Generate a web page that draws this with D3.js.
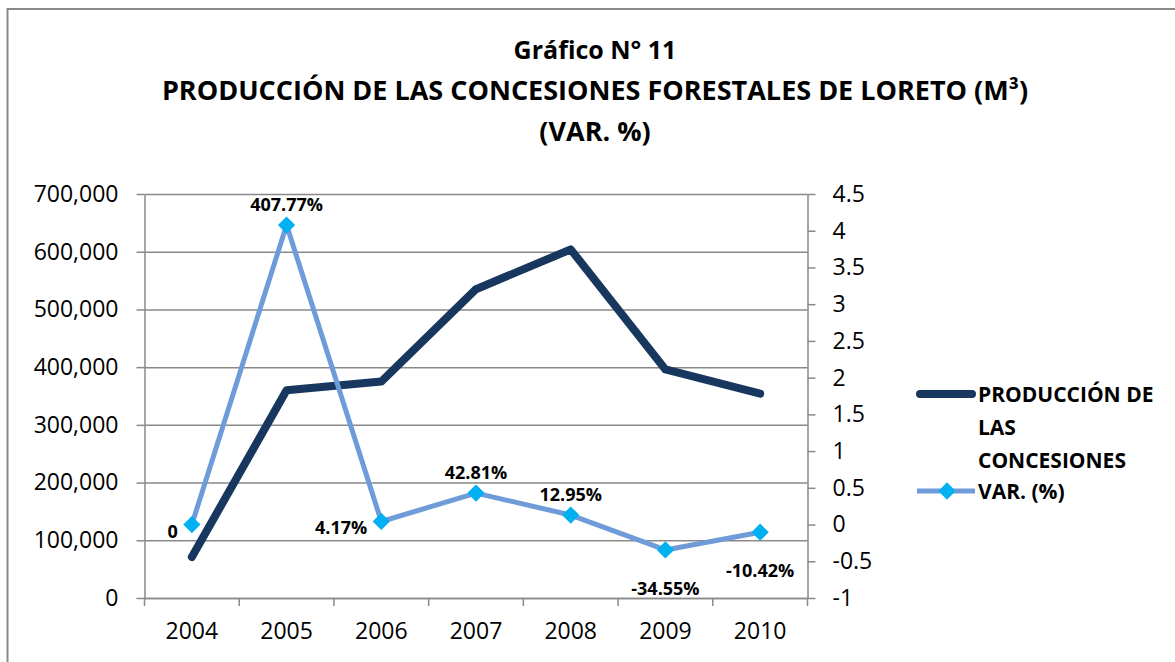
<!DOCTYPE html>
<html>
<head>
<meta charset="utf-8">
<script src="https://cdn.jsdelivr.net/npm/d3@7"></script>
<style>
  body { margin: 0; background: #fff; }
  svg text { font-family: "Open Sans", "Noto Sans", sans-serif; fill: #000; }
  .axis path, .axis line { stroke: #898989; stroke-width: 1.5; }
  .grid line { stroke: #898989; stroke-width: 1.5; }
  .grid path { display: none; }
</style>
</head>
<body>
<div id="chart"></div>
<script>
// datos
const years = ["2004", "2005", "2006", "2007", "2008", "2009", "2010"]
const produccion = [71000, 360000, 375000, 535000, 604000, 396000, 354000]
const variacion = [0, 4.0777, 0.0417, 0.4281, 0.1295, -0.3455, -0.1042]
const leftTicks = [0, 100000, 200000, 300000, 400000, 500000, 600000, 700000]
const rightTicks = [-1, -0.5, 0, 0.5, 1, 1.5, 2, 2.5, 3, 3.5, 4, 4.5]
const labelPos = ["left", "above", "left", "above", "above", "below", "below"]
const titleLines = ["Gráfico N° 11", "PRODUCCIÓN DE LAS CONCESIONES FORESTALES DE LORETO (M³)", "(VAR. %)"]
const seriesNames = ["PRODUCCIÓN DE LAS CONCESIONES", "VAR. (%)"]

const width = 1175
const height = 662
const margin = { top: 194, bottom: 64, left: 144.5, right: 367.5 }
const plotW = width - margin.left - margin.right
const plotH = height - margin.top - margin.bottom

const darkBlue = "#17375E"
const lightBlue = "#6F9CD9"
const markerBlue = "#00B0F0"

const locale = d3.formatLocale({ decimal: ".", thousands: ",", grouping: [3], currency: ["", ""], minus: "-" })

const svg = d3.select("div#chart").append("svg").attr("width", width).attr("height", height)

// marco
svg.append("rect")
    .attr("x", 7.5).attr("y", 9)
    .attr("width", width + 10).attr("height", height + 10)
    .attr("fill", "none").attr("stroke", "#8a8a8a").attr("stroke-width", 2)

// titulo
svg.selectAll(".title").data(titleLines).enter()
    .append("text")
    .attr("class", "title")
    .attr("x", 595)
    .attr("y", (d, i) => 59 + i * 41)
    .attr("text-anchor", "middle")
    .style("font-size", (d, i) => i === 0 ? "25px" : "27px")
    .style("font-weight", "bold")
    .text(d => d)

const g = svg.append("g").attr("transform", `translate(${margin.left},${margin.top})`)

const x = d3.scaleBand().domain(years).range([0, plotW])
const yL = d3.scaleLinear().domain([0, 700000]).range([plotH, 0])
const yR = d3.scaleLinear().domain([-1, 4.5]).range([plotH, 0])

// grid
g.append("g").attr("class", "grid")
    .call(d3.axisLeft(yL).tickValues(leftTicks).tickSize(-plotW).tickFormat(""))

// eje izquierdo
const leftAxis = g.append("g").attr("class", "axis")
    .call(d3.axisLeft(yL).tickValues(leftTicks).tickSize(8).tickPadding(18).tickSizeOuter(0).tickFormat(locale.format(",")))
leftAxis.selectAll("text").style("font-size", "23px")

// eje derecho
const rightAxis = g.append("g").attr("class", "axis")
    .attr("transform", `translate(${plotW},0)`)
    .call(d3.axisRight(yR).tickValues(rightTicks).tickSize(8).tickPadding(17).tickSizeOuter(0).tickFormat(d => d))
rightAxis.selectAll("text").style("font-size", "23px")

// eje x
const bottomAxis = g.append("g").attr("class", "axis")
    .attr("transform", `translate(0,${plotH})`)
    .call(d3.axisBottom(x).tickSize(0).tickPadding(25).tickSizeOuter(0))
bottomAxis.selectAll("text").style("font-size", "23px")
bottomAxis.selectAll(".sep").data(years.concat(["end"])).enter()
    .append("line").attr("class", "sep")
    .attr("x1", (d, i) => i < years.length ? x(d) : plotW)
    .attr("x2", (d, i) => i < years.length ? x(d) : plotW)
    .attr("y1", 0).attr("y2", 8)

// linea produccion
const lineProd = d3.line()
    .x((d, i) => x(years[i]) + x.bandwidth() / 2)
    .y(d => yL(d))
g.append("path").datum(produccion)
    .attr("d", lineProd)
    .attr("fill", "none")
    .attr("stroke", darkBlue)
    .attr("stroke-width", 8)
    .attr("stroke-linecap", "round")
    .attr("stroke-linejoin", "round")

// linea variacion
const lineVar = d3.line()
    .x((d, i) => x(years[i]) + x.bandwidth() / 2)
    .y(d => yR(d))
g.append("path").datum(variacion)
    .attr("d", lineVar)
    .attr("fill", "none")
    .attr("stroke", lightBlue)
    .attr("stroke-width", 5)
    .attr("stroke-linejoin", "round")

const diamond = d3.symbol().type(d3.symbolDiamond2).size(190)
g.selectAll(".marker").data(variacion).enter()
    .append("path").attr("class", "marker")
    .attr("d", diamond)
    .attr("transform", (d, i) => `translate(${x(years[i]) + x.bandwidth() / 2},${yR(d)})`)
    .attr("fill", markerBlue)

// etiquetas
const pct = locale.format(".2%")
g.selectAll(".label").data(variacion).enter()
    .append("text").attr("class", "label")
    .attr("x", (d, i) => {
        const cx = x(years[i]) + x.bandwidth() / 2
        return labelPos[i] === "left" ? cx - 14 : cx
    })
    .attr("y", (d, i) => {
        const cy = yR(d)
        if (labelPos[i] === "above") return cy - 14
        if (labelPos[i] === "below") return cy + 45
        return cy + 13
    })
    .attr("text-anchor", (d, i) => labelPos[i] === "left" ? "end" : "middle")
    .style("font-size", "18px")
    .style("font-weight", "bold")
    .text(d => d === 0 ? "0" : pct(d))

// leyenda
const legend = svg.append("g").attr("transform", "translate(917,0)")
legend.append("line")
    .attr("x1", 3).attr("x2", 55).attr("y1", 394).attr("y2", 394)
    .attr("stroke", darkBlue).attr("stroke-width", 8).attr("stroke-linecap", "round")
legend.append("text")
    .attr("x", 61).attr("y", 402)
    .style("font-size", "21px").style("font-weight", "bold")
    .selectAll("tspan").data(["PRODUCCIÓN DE", "LAS", "CONCESIONES"]).enter()
    .append("tspan").attr("x", 61).attr("dy", (d, i) => i === 0 ? 0 : 33).text(d => d)
legend.append("line")
    .attr("x1", 0).attr("x2", 58).attr("y1", 491).attr("y2", 491)
    .attr("stroke", lightBlue).attr("stroke-width", 5)
legend.append("path")
    .attr("d", diamond)
    .attr("transform", "translate(30,491)")
    .attr("fill", markerBlue)
legend.append("text")
    .attr("x", 61).attr("y", 499)
    .style("font-size", "21px").style("font-weight", "bold")
    .text(seriesNames[1])
</script>
</body>
</html>
